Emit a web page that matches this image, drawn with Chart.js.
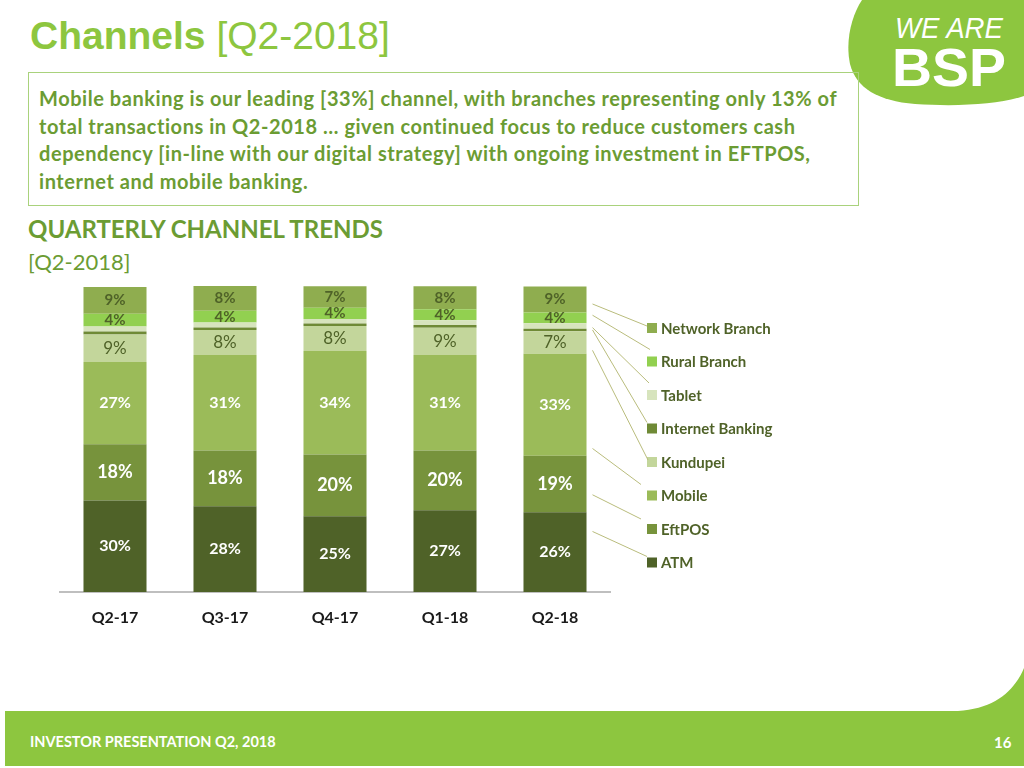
<!DOCTYPE html>
<html>
<head>
<meta charset="utf-8">
<title>Channels [Q2-2018]</title>
<script src="https://cdn.jsdelivr.net/npm/chart.js@4.4.1/dist/chart.umd.min.js"></script>
<style>
  html, body { margin: 0; padding: 0; background: #fff; }
  body { width: 1024px; height: 768px; position: relative; overflow: hidden; font-family: Lato, "Open Sans", sans-serif; }
  .abs { position: absolute; }
  #title { left: 30px; top: 14px; font-family: "Liberation Sans", Arial, sans-serif; font-size: 39px; color: #8dc63f; white-space: nowrap; }
  #title b { font-weight: bold; }
  #box { left: 28px; top: 72px; width: 829px; height: 132px; border: 1px solid #a9d27c; }
  #box p { margin: 0; position: absolute; left: 10px; top: 12px; font-size: 20px; letter-spacing: 0.55px; line-height: 27.5px; font-weight: bold; color: #6b9c33; white-space: nowrap; }
  #sub1 { left: 28px; top: 214px; font-size: 24px; font-weight: bold; color: #6b9c33; white-space: nowrap; }
  #sub2 { left: 28px; top: 248px; font-size: 22px; color: #6b9c33; white-space: nowrap; }
  #chartWrap { left: 0; top: 270px; width: 1024px; height: 380px; }
  #foot { left: 0; top: 0; }
  #footText { left: 30px; top: 733px; font-size: 14.5px; font-weight: bold; color: #fff; white-space: nowrap; }
  #pageNo { left: 994px; top: 733px; font-size: 15px; font-weight: bold; color: #fff; }
</style>
</head>
<body>

<svg id="foot" class="abs" width="1024" height="768">
  <!-- logo blob -->
  <path d="M862,0 L1024,0 L1024,96 C1000,104 960,107 915,104 C878,101 856,88 850,64 C845,40 852,15 862,0 Z" fill="#8dc63f"/>
  <text x="895" y="38" font-family="Liberation Sans, sans-serif" font-size="29" font-style="italic" fill="#fff" textLength="108" lengthAdjust="spacingAndGlyphs">WE ARE</text>
  <text x="892" y="86" font-family="Liberation Sans, sans-serif" font-size="54" font-weight="bold" fill="#fff" textLength="114" lengthAdjust="spacingAndGlyphs">BSP</text>
  <!-- footer band -->
  <path d="M5,711 L958,711 C995,709 1015,690 1024,668 L1024,766 L5,766 Z" fill="#8dc63f"/>
</svg>

<div id="title" class="abs"><b>Channels</b> [Q2-2018]</div>

<div id="box" class="abs">
  <p>Mobile banking is our leading [33%] channel, with branches representing only 13% of<br>
  total transactions in Q2-2018 … given continued focus to reduce customers cash<br>
  dependency [in-line with our digital strategy] with ongoing investment in EFTPOS,<br>
  internet and mobile banking.</p>
</div>

<div id="sub1" class="abs">QUARTERLY CHANNEL TRENDS</div>
<div id="sub2" class="abs">[Q2-2018]</div>

<div id="chartWrap" class="abs"><canvas id="channelChart" width="1024" height="380"></canvas></div>

<div id="footText" class="abs">INVESTOR PRESENTATION Q2, 2018</div>
<div id="pageNo" class="abs">16</div>

<script>
// ---- data (share of transactions, %) ----
const quarters        = ['Q2-17', 'Q3-17', 'Q4-17', 'Q1-18', 'Q2-18'];
const atm             = [30.0, 28.1, 24.8, 26.8, 26.1];
const eftpos          = [18.4, 18.3, 20.3, 19.6, 18.6];
const mobile          = [27.0, 31.3, 33.9, 31.3, 33.4];
const kundupei        = [9.0, 8.2, 8.2, 8.9, 7.4];
const internetBanking = [1.0, 0.8, 0.8, 0.9, 0.8];
const tablet          = [1.6, 1.6, 1.5, 1.6, 1.8];
const ruralBranch     = [4.2, 3.9, 3.7, 3.6, 3.5];
const networkBranch   = [8.8, 8.1, 7.0, 7.5, 8.5];

const darkText = '#4f6228';

// value labels drawn in the middle of each segment
const segLabels = {
  id: 'segLabels',
  afterDatasetsDraw(chart) {
    const ctx = chart.ctx;
    ctx.save();
    ctx.textAlign = 'center';
    ctx.textBaseline = 'middle';
    chart.data.datasets.forEach((ds, i) => {
      if (!ds.valueFont) return;
      ctx.font = ds.valueFont;
      ctx.fillStyle = ds.valueColor;
      chart.getDatasetMeta(i).data.forEach((bar, j) => {
        ctx.fillText(Math.round(ds.data[j]) + '%', bar.x, (bar.y + bar.base) / 2);
      });
    });
    ctx.restore();
  }
};

// legend on the right with leader lines from the last bar
const sideLegend = {
  id: 'sideLegend',
  afterDraw(chart, args, opts) {
    const ctx = chart.ctx;
    const dsets = chart.data.datasets;
    const last = quarters.length - 1;
    ctx.save();
    for (let k = 0; k < dsets.length; k++) {
      const i = dsets.length - 1 - k;        // top of stack first
      const ds = dsets[i];
      const y = opts.top + k * opts.step;
      // square + text
      ctx.fillStyle = ds.backgroundColor;
      ctx.fillRect(opts.x, y - 5, 10, 10);
      ctx.fillStyle = darkText;
      ctx.font = 'bold 15px Lato, sans-serif';
      ctx.textBaseline = 'middle';
      ctx.fillText(ds.label, opts.x + 14, y + 1);
      // leader line
      const bar = chart.getDatasetMeta(i).data[last];
      const sy = bar.y + (bar.base - bar.y) * ds.leaderAt;
      const sx = bar.x + bar.width / 2 + 6;
      ctx.strokeStyle = '#b9bc7c';
      ctx.lineWidth = 1;
      ctx.beginPath();
      ctx.moveTo(sx, sy);
      ctx.lineTo(opts.x + ds.leaderEnd[0], y + ds.leaderEnd[1]);
      ctx.stroke();
    }
    ctx.restore();
  }
};

new Chart(document.getElementById('channelChart'), {
  type: 'bar',
  data: {
    labels: quarters,
    datasets: [
      { label: 'ATM', data: atm, backgroundColor: '#4f6228',
        valueFont: 'bold 16px Lato, sans-serif', valueColor: '#fff', leaderAt: 0.24, leaderEnd: [0, -6] },
      { label: 'EftPOS', data: eftpos, backgroundColor: '#77933c',
        valueFont: 'bold 18px Lato, sans-serif', valueColor: '#fff', leaderAt: 0.69, leaderEnd: [-6, -10] },
      { label: 'Mobile', data: mobile, backgroundColor: '#9bbb59',
        valueFont: 'bold 16px Lato, sans-serif', valueColor: '#fff', leaderAt: 0.93, leaderEnd: [-6, -11] },
      { label: 'Kundupei', data: kundupei, backgroundColor: '#c3d69b',
        valueFont: '17px Lato, sans-serif', valueColor: darkText, leaderAt: 0.85, leaderEnd: [1, -2] },
      { label: 'Internet Banking', data: internetBanking, backgroundColor: '#6f8a36',
        leaderAt: 0.5, leaderEnd: [0, -6] },
      { label: 'Tablet', data: tablet, backgroundColor: '#d7e4bd',
        leaderAt: 0.8, leaderEnd: [2, -12] },
      { label: 'Rural Branch', data: ruralBranch, backgroundColor: '#92d050',
        valueFont: 'bold 15px Lato, sans-serif', valueColor: darkText, leaderAt: 0.25, leaderEnd: [3, -12] },
      { label: 'Network Branch', data: networkBranch, backgroundColor: '#8fad4f',
        valueFont: 'bold 15px Lato, sans-serif', valueColor: darkText, leaderAt: 0.67, leaderEnd: [0, -2] }
    ]
  },
  options: {
    responsive: false,
    animation: false,
    barPercentage: 0.573,
    categoryPercentage: 1,
    layout: { padding: { left: 60, right: 414, top: 16, bottom: 0 } },
    plugins: {
      legend: { display: false },
      tooltip: { enabled: false },
      // canvas coordinates (canvas starts 270px down the page)
      sideLegend: { x: 647, top: 58, step: 33.5 }
    },
    scales: {
      x: {
        stacked: true,
        grid: { display: false, drawTicks: false },
        border: { display: true, color: '#bfbfbf', width: 2 },
        ticks: { color: '#1a1a1a', padding: 16, font: { family: 'Lato, sans-serif', size: 16, weight: 'bold' } },
        afterFit(scale) { scale.height = 58; }
      },
      y: { stacked: true, display: false, min: 0, max: 100.3 }
    }
  },
  plugins: [segLabels, sideLegend]
});
</script>
</body>
</html>
